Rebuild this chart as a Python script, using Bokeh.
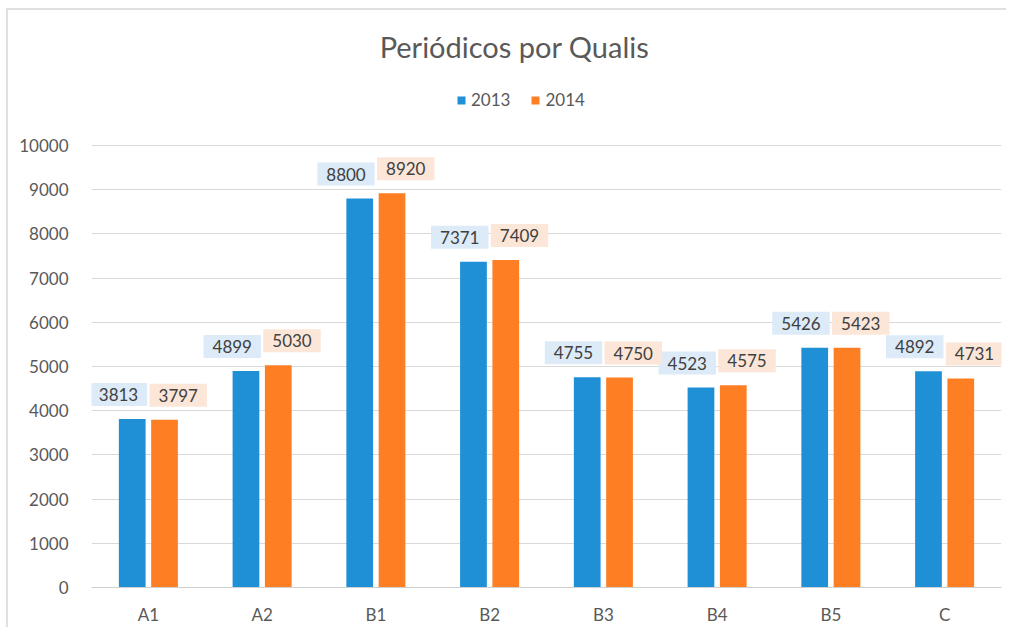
from bokeh.plotting import figure
from bokeh.models import (ColumnDataSource, FactorRange, Range1d, FixedTicker,
                          Legend, LegendItem, Label)
from bokeh.transform import dodge
from bokeh.core.properties import value
from bokeh.embed import file_html
from bokeh.resources import INLINE

categories = ["A1", "A2", "B1", "B2", "B3", "B4", "B5", "C"]
series_names = ["2013", "2014"]
values_2013 = [3813, 4899, 8800, 7371, 4755, 4523, 5426, 4892]
values_2014 = [3797, 5030, 8920, 7409, 4750, 4575, 5423, 4731]
y_ticks = [0, 1000, 2000, 3000, 4000, 5000, 6000, 7000, 8000, 9000, 10000]
title_text = "Periódicos por Qualis"

FONT = "Lato"
BLUE = "#1f8fd6"
ORANGE = "#fd7e23"
BLUE_BOX = "#dcebf7"
ORANGE_BOX = "#fbe6d8"
TXT = "#595959"

AXIS_H = 442          # pixels between 0 and 10000
HEADER_H = 135        # pixels of header above the 10000 line
FRAME_W = 910
Y_MAX = 10000
PX = Y_MAX / AXIS_H   # data units per pixel
CAT_PX = FRAME_W / len(categories)

src = ColumnDataSource(dict(
    cat=categories,
    v13=values_2013,
    v14=values_2014,
    t13=[str(v) for v in values_2013],
    t14=[str(v) for v in values_2014],
))

p = figure(frame_width=FRAME_W, frame_height=AXIS_H + HEADER_H,
           x_range=FactorRange(*categories, range_padding=0),
           y_range=Range1d(0, Y_MAX + HEADER_H * PX), output_backend="svg", toolbar_location=None,
           min_border_left=83, min_border_right=5, min_border_top=0, min_border_bottom=38,
           styles={"margin-left": "6px", "margin-top": "8px",
                   "border-left": "2px solid #e0e0e0", "border-top": "2px solid #e0e0e0"})

p.outline_line_color = None
p.background_fill_color = "white"
p.border_fill_color = "white"

r13 = p.vbar(x=dodge("cat", -0.142, range=p.x_range), top="v13", width=0.235, source=src,
             fill_color=BLUE, line_color=None)
r14 = p.vbar(x=dodge("cat", 0.142, range=p.x_range), top="v14", width=0.235, source=src,
             fill_color=ORANGE, line_color=None)

pad = {"left": 9, "right": 9, "top": 5, "bottom": 5}
p.text(x=dodge("cat", -0.142, range=p.x_range), y="v13", text="t13", source=src,
       anchor="bottom_right", x_offset=15, y_offset=-13, padding=pad,
       background_fill_color=BLUE_BOX, text_font=value(FONT), text_font_size="17px",
       text_color="#404040")
p.text(x=dodge("cat", 0.142, range=p.x_range), y="v14", text="t14", source=src,
       anchor="bottom_left", x_offset=-15, y_offset=-13, padding=pad,
       background_fill_color=ORANGE_BOX, text_font=value(FONT), text_font_size="17px",
       text_color="#404040")

# title centred on the whole chart area (slightly left of the plot-area centre)
title = Label(x=len(categories) / 2 - 32 / CAT_PX, y=Y_MAX + 99 * PX, text=title_text,
              text_align="center", text_baseline="middle", text_font=FONT,
              text_font_size="29px", text_color=TXT)
p.add_layout(title)

legend = Legend(items=[LegendItem(label=series_names[0], renderers=[r13]),
                       LegendItem(label=series_names[1], renderers=[r14])],
                orientation="horizontal", location=(365, 477),
                glyph_width=10, glyph_height=10, spacing=20, label_standoff=5,
                padding=0, margin=0, label_height=20,
                label_text_font=FONT, label_text_font_size="17px", label_text_color=TXT,
                border_line_color=None, background_fill_alpha=0)
p.add_layout(legend)

p.yaxis.ticker = FixedTicker(ticks=y_ticks)
p.yaxis.axis_line_color = None
p.yaxis.major_tick_line_color = None
p.yaxis.minor_tick_line_color = None
p.yaxis.major_label_standoff = 17
p.yaxis.major_label_text_font = FONT
p.yaxis.major_label_text_font_size = "17px"
p.yaxis.major_label_text_color = TXT

p.xaxis.axis_line_color = "#d0d0d0"
p.xaxis.major_tick_line_color = None
p.xaxis.minor_tick_line_color = None
p.xaxis.major_label_standoff = 10
p.xaxis.major_label_text_font = FONT
p.xaxis.major_label_text_font_size = "17px"
p.xaxis.major_label_text_color = TXT

p.xgrid.grid_line_color = None
p.ygrid.grid_line_color = "#d9d9d9"

open("out.html", "w").write(file_html(p, INLINE))
